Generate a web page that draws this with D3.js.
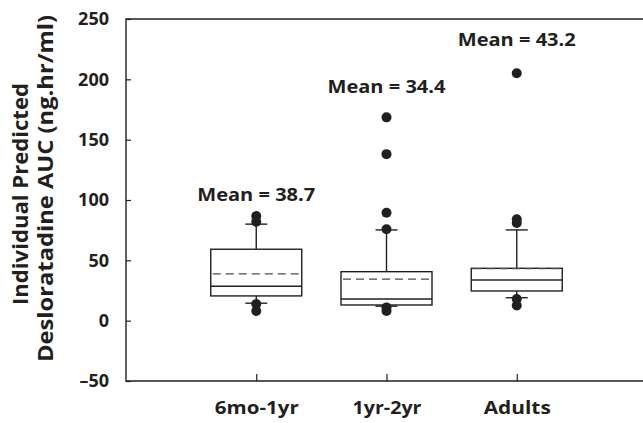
<!DOCTYPE html>
<html>
<head>
<meta charset="utf-8">
<script src="https://cdn.jsdelivr.net/npm/d3@7"></script>
<style>
  html, body { margin: 0; padding: 0; background: #fff; }
  svg { display: block; font-family: "Open Sans", Lato, sans-serif; font-weight: 700; }
</style>
</head>
<body>
<svg id="chart" width="643" height="423"></svg>
<script>
// Desloratadine AUC by age group
const categories = ["6mo-1yr", "1yr-2yr", "Adults"];
const means = [38.7, 34.4, 43.2];
const q1 = [20.5, 13, 24.6];
const medians = [28.5, 18, 33.7];
const q3 = [59.2, 40.6, 43.4];
const whiskerLow = [14.5, 12, 19];
const whiskerHigh = [80, 75.2, 75.2];
const outliers = [
  [86.8, 82, 13.8, 8],
  [168.5, 138, 89.5, 75.7, 11, 8],
  [205, 84, 81, 18, 12.5]
];
const yTicks = [-50, 0, 50, 100, 150, 200, 250];
const titleLines = ["Individual Predicted", "Desloratadine AUC (ng.hr/ml)"];

const svg = d3.select("#chart");
const ink = "#231f20";
const font = "'Open Sans', Lato, sans-serif";
const plotLeft = 126, plotTop = 19, plotBottom = 381, plotRight = 647;

const x = d3.scaleLinear().domain([0, categories.length + 1]).range([plotLeft, plotRight]);
const y = d3.scaleLinear().domain([-50, 250]).range([plotBottom, plotTop]);

// frame: left, top and bottom rules (open on the right)
svg.append("path")
  .attr("d", `M${plotRight},${plotTop}H${plotLeft}V${plotBottom}H${plotRight}`)
  .attr("fill", "none").attr("stroke", ink).attr("stroke-width", 1.4);

// y axis
const yAxis = d3.axisLeft(y).tickValues(yTicks).tickSize(-5).tickPadding(17)
  .tickFormat(d => d < 0 ? "\u2013" + Math.abs(d) : String(d));
const gy = svg.append("g").attr("transform", `translate(${plotLeft},0)`).call(yAxis);
gy.select(".domain").remove();
gy.selectAll(".tick line").attr("stroke", ink).attr("stroke-width", 1.2);
gy.selectAll(".tick text").attr("fill", ink).attr("font-size", 18).attr("font-weight", 700)
  .attr("font-family", font);

// x axis (wide-set labels)
const xLabelWidth = [84, 69, 67];
const xAxis = d3.axisBottom(x).tickValues(d3.range(1, categories.length + 1))
  .tickSize(-7).tickPadding(20).tickFormat(i => categories[i - 1]);
const gx = svg.append("g").attr("transform", `translate(0,${plotBottom})`).call(xAxis);
gx.select(".domain").remove();
gx.selectAll(".tick line").attr("stroke", ink).attr("stroke-width", 1.2);
gx.selectAll(".tick text").attr("fill", ink).attr("font-size", 18).attr("font-weight", 700)
  .attr("font-family", font)
  .attr("textLength", (d, i) => xLabelWidth[i]).attr("lengthAdjust", "spacingAndGlyphs");

// y axis title, two lines
const titleLayout = [{ cy: 194, base: 28, len: 222 }, { cy: 188.5, base: 53, len: 347 }];
titleLines.forEach((t, i) => {
  const L = titleLayout[i];
  svg.append("text")
    .attr("transform", `translate(${L.base},${L.cy}) rotate(-90)`)
    .attr("text-anchor", "middle").attr("fill", ink).attr("font-size", 21)
    .attr("textLength", L.len).attr("lengthAdjust", "spacingAndGlyphs")
    .text(t);
});

// boxes
const boxW = 91, capW = 22;
const labelGap = [15, 24, 27];
categories.forEach((c, i) => {
  const cx = x(i + 1);
  const g = svg.append("g");
  // whiskers
  g.append("line").attr("x1", cx).attr("x2", cx).attr("y1", y(q3[i])).attr("y2", y(whiskerHigh[i]))
    .attr("stroke", ink).attr("stroke-width", 1.4);
  g.append("line").attr("x1", cx).attr("x2", cx).attr("y1", y(q1[i])).attr("y2", y(whiskerLow[i]))
    .attr("stroke", ink).attr("stroke-width", 1.4);
  [whiskerHigh[i], whiskerLow[i]].forEach(v => {
    g.append("line").attr("x1", cx - capW / 2).attr("x2", cx + capW / 2).attr("y1", y(v)).attr("y2", y(v))
      .attr("stroke", ink).attr("stroke-width", 1.4);
  });
  // box
  g.append("rect").attr("x", cx - boxW / 2).attr("width", boxW)
    .attr("y", y(q3[i])).attr("height", y(q1[i]) - y(q3[i]))
    .attr("fill", "#fff").attr("stroke", ink).attr("stroke-width", 1.4);
  // mean (dashed)
  g.append("line").attr("x1", cx - boxW / 2 + 2).attr("x2", cx + boxW / 2 - 2)
    .attr("y1", y(means[i])).attr("y2", y(means[i]))
    .attr("stroke", "#4a4a4a").attr("stroke-width", 1.3).attr("stroke-dasharray", "8,5");
  // median
  g.append("line").attr("x1", cx - boxW / 2).attr("x2", cx + boxW / 2)
    .attr("y1", y(medians[i])).attr("y2", y(medians[i]))
    .attr("stroke", ink).attr("stroke-width", 1.4);
  // outliers
  g.selectAll("circle").data(outliers[i]).join("circle")
    .attr("cx", cx).attr("cy", d => y(d)).attr("r", 5).attr("fill", ink);
  // mean label
  g.append("text").attr("x", cx).attr("y", y(d3.max(outliers[i])) - labelGap[i])
    .attr("text-anchor", "middle").attr("fill", ink).attr("font-size", 18.5)
    .attr("textLength", 118).attr("lengthAdjust", "spacingAndGlyphs")
    .text(`Mean = ${means[i].toFixed(1)}`);
});
</script>
</body>
</html>
